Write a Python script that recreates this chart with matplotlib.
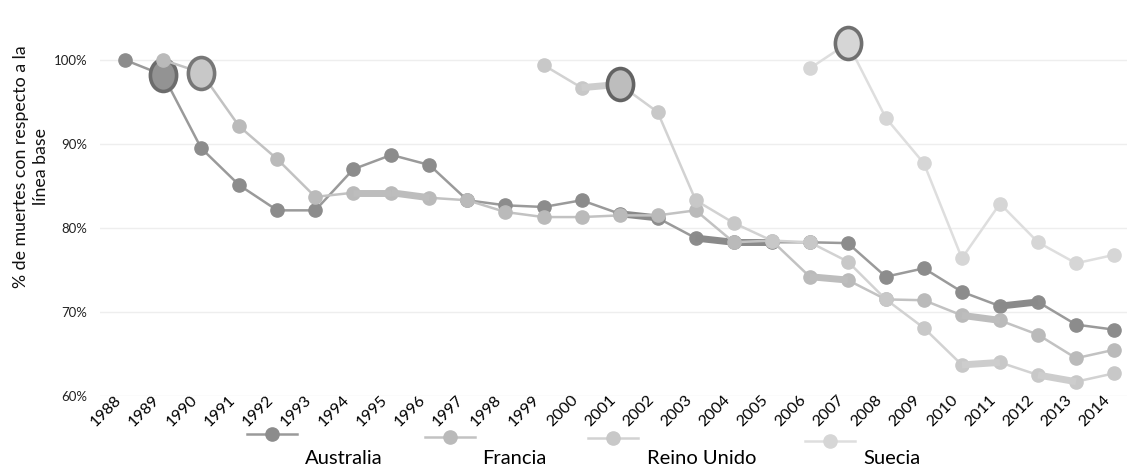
import numpy as np
import matplotlib.pyplot as plt
import matplotlib.transforms as mtransforms
from matplotlib.lines import Line2D
from matplotlib.path import Path
from matplotlib.markers import MarkerStyle

plt.rcParams['font.family'] = ['Lato', 'DejaVu Sans']

nan = np.nan
years = np.arange(1988, 2015)

# % of deaths relative to the baseline year, per country
australia = [100, 98.2, 89.5, 85.1, 82.1, 82.1, 87.0, 88.7, 87.5, 83.3,
             82.7, 82.5, 83.3, 81.7, 81.2, 78.8, 78.3, 78.3, 78.3, 78.2,
             74.2, 75.2, 72.4, 70.7, 71.2, 68.5, 67.9]
francia = [nan, 100, 98.5, 92.1, 88.2, 83.7, 84.2, 84.2, 83.6, 83.3,
           81.9, 81.3, 81.3, 81.5, 81.5, 82.1, 78.3, 78.5, 74.2, 73.8,
           71.5, 71.4, 69.6, 69.0, 67.3, 64.5, 65.5]
reino_unido = [nan] * 11 + [99.4, 96.7, 97.1, 93.8, 83.3, 80.6, 78.5, 78.3,
                            76.0, 71.5, 68.1, 63.7, 64.0, 62.5, 61.7, 62.7]
suecia = [nan] * 18 + [99.0, 102.0, 93.1, 87.7, 76.4, 82.9, 78.3, 75.8, 76.8]

names = ['Australia', 'Francia', 'Reino Unido', 'Suecia']
# year in which each country's series is highlighted
key_years = [1989, 1990, 2001, 2007]
# first year of segments drawn with a heavier stroke
flat_years = [[2001, 2003, 2004, 2011], [1994, 1995, 2006, 2010],
              [2000, 2010, 2012], []]

y_ticks = [60, 70, 80, 90, 100]
y_labels = ['60%', '70%', '80%', '90%', '100%']

line_cols = ['#9a9a9a', '#c2c2c2', '#d2d2d2', '#dedede']
mark_cols = ['#8c8c8c', '#bababa', '#c8c8c8', '#d6d6d6']
flat_cols = ['#8a8a8a', '#bdbdbd', '#cdcdcd', '#d8d8d8']
big_fill = ['#939393', '#c8c8c8', '#bdbdbd', '#d6d6d6']
big_edge = ['#6c6c6c', '#777777', '#636363', '#707070']

fig = plt.figure(figsize=(11.27, 4.71), dpi=100)
ax = fig.add_axes([100 / 1127, 75 / 471, 1027 / 1127, 376 / 471])

ellipse = MarkerStyle(Path.unit_circle().transformed(
    mtransforms.Affine2D().scale(0.82, 1.0)))

for k, vals in enumerate([australia, francia, reino_unido, suecia]):
    vals = np.array(vals, dtype=float)
    z = 3 + k
    ax.plot(years, vals, color=line_cols[k], lw=1.8, marker='o', ms=9.5,
            mfc=mark_cols[k], mec=mark_cols[k], zorder=z)
    for y0 in flat_years[k]:
        i = int(np.where(years == y0)[0][0])
        ax.plot(years[i:i + 2], vals[i:i + 2], color=flat_cols[k], lw=5,
                solid_capstyle='butt', zorder=z)
    i = int(np.where(years == key_years[k])[0][0])
    ax.plot(years[i], vals[i], marker=ellipse, ms=23, mfc=big_fill[k],
            mec=big_edge[k], mew=2.6, ls='none', zorder=z + 0.5)

ax.set_xlim(1987.34, 2014.34)
ax.set_ylim(60, 104.76)
ax.set_yticks(y_ticks)
ax.set_yticklabels(y_labels, fontsize=9.5, color='#222222')
ax.yaxis.grid(True, color='#eeeeee', lw=1)
ax.set_axisbelow(True)
ax.tick_params(axis='y', length=0, pad=9)
ax.tick_params(axis='x', length=0, pad=0)
ax.set_xticks(years)
ax.set_xticklabels([str(y) for y in years], rotation=45, ha='right',
                   va='center', rotation_mode='anchor', fontsize=11.5,
                   color='black')
shift = mtransforms.ScaledTranslation(-6 / 100, -2 / 100, fig.dpi_scale_trans)
for lab in ax.get_xticklabels():
    lab.set_transform(lab.get_transform() + shift)
for s in ax.spines.values():
    s.set_visible(False)

fig.text(31 / 1127, 1 - 167 / 471, '% de muertes con respecto a la\nlínea base',
         rotation=90, ha='center', va='center', fontsize=12.8,
         linespacing=1.3, color='#111111')

# legend, laid out by hand under the axis
leg_x = [247, 425, 588, 805]
leg_y = [434, 437, 438, 441]
txt_x = [305, 482, 647, 863]
for k, name in enumerate(names):
    x0, yy = leg_x[k] / 1127, 1 - leg_y[k] / 471
    fig.add_artist(Line2D([x0, x0 + 50 / 1127], [yy, yy], color=line_cols[k],
                          lw=1.8, transform=fig.transFigure))
    fig.add_artist(Line2D([x0 + 25 / 1127], [yy], marker='o', ms=9.5,
                          mfc=mark_cols[k], mec=mark_cols[k],
                          transform=fig.transFigure))
    fig.text(txt_x[k] / 1127, 1 - 458 / 471, name, ha='left', va='center',
             fontsize=14.5, color='black')

fig.savefig('out.png', dpi=100)
